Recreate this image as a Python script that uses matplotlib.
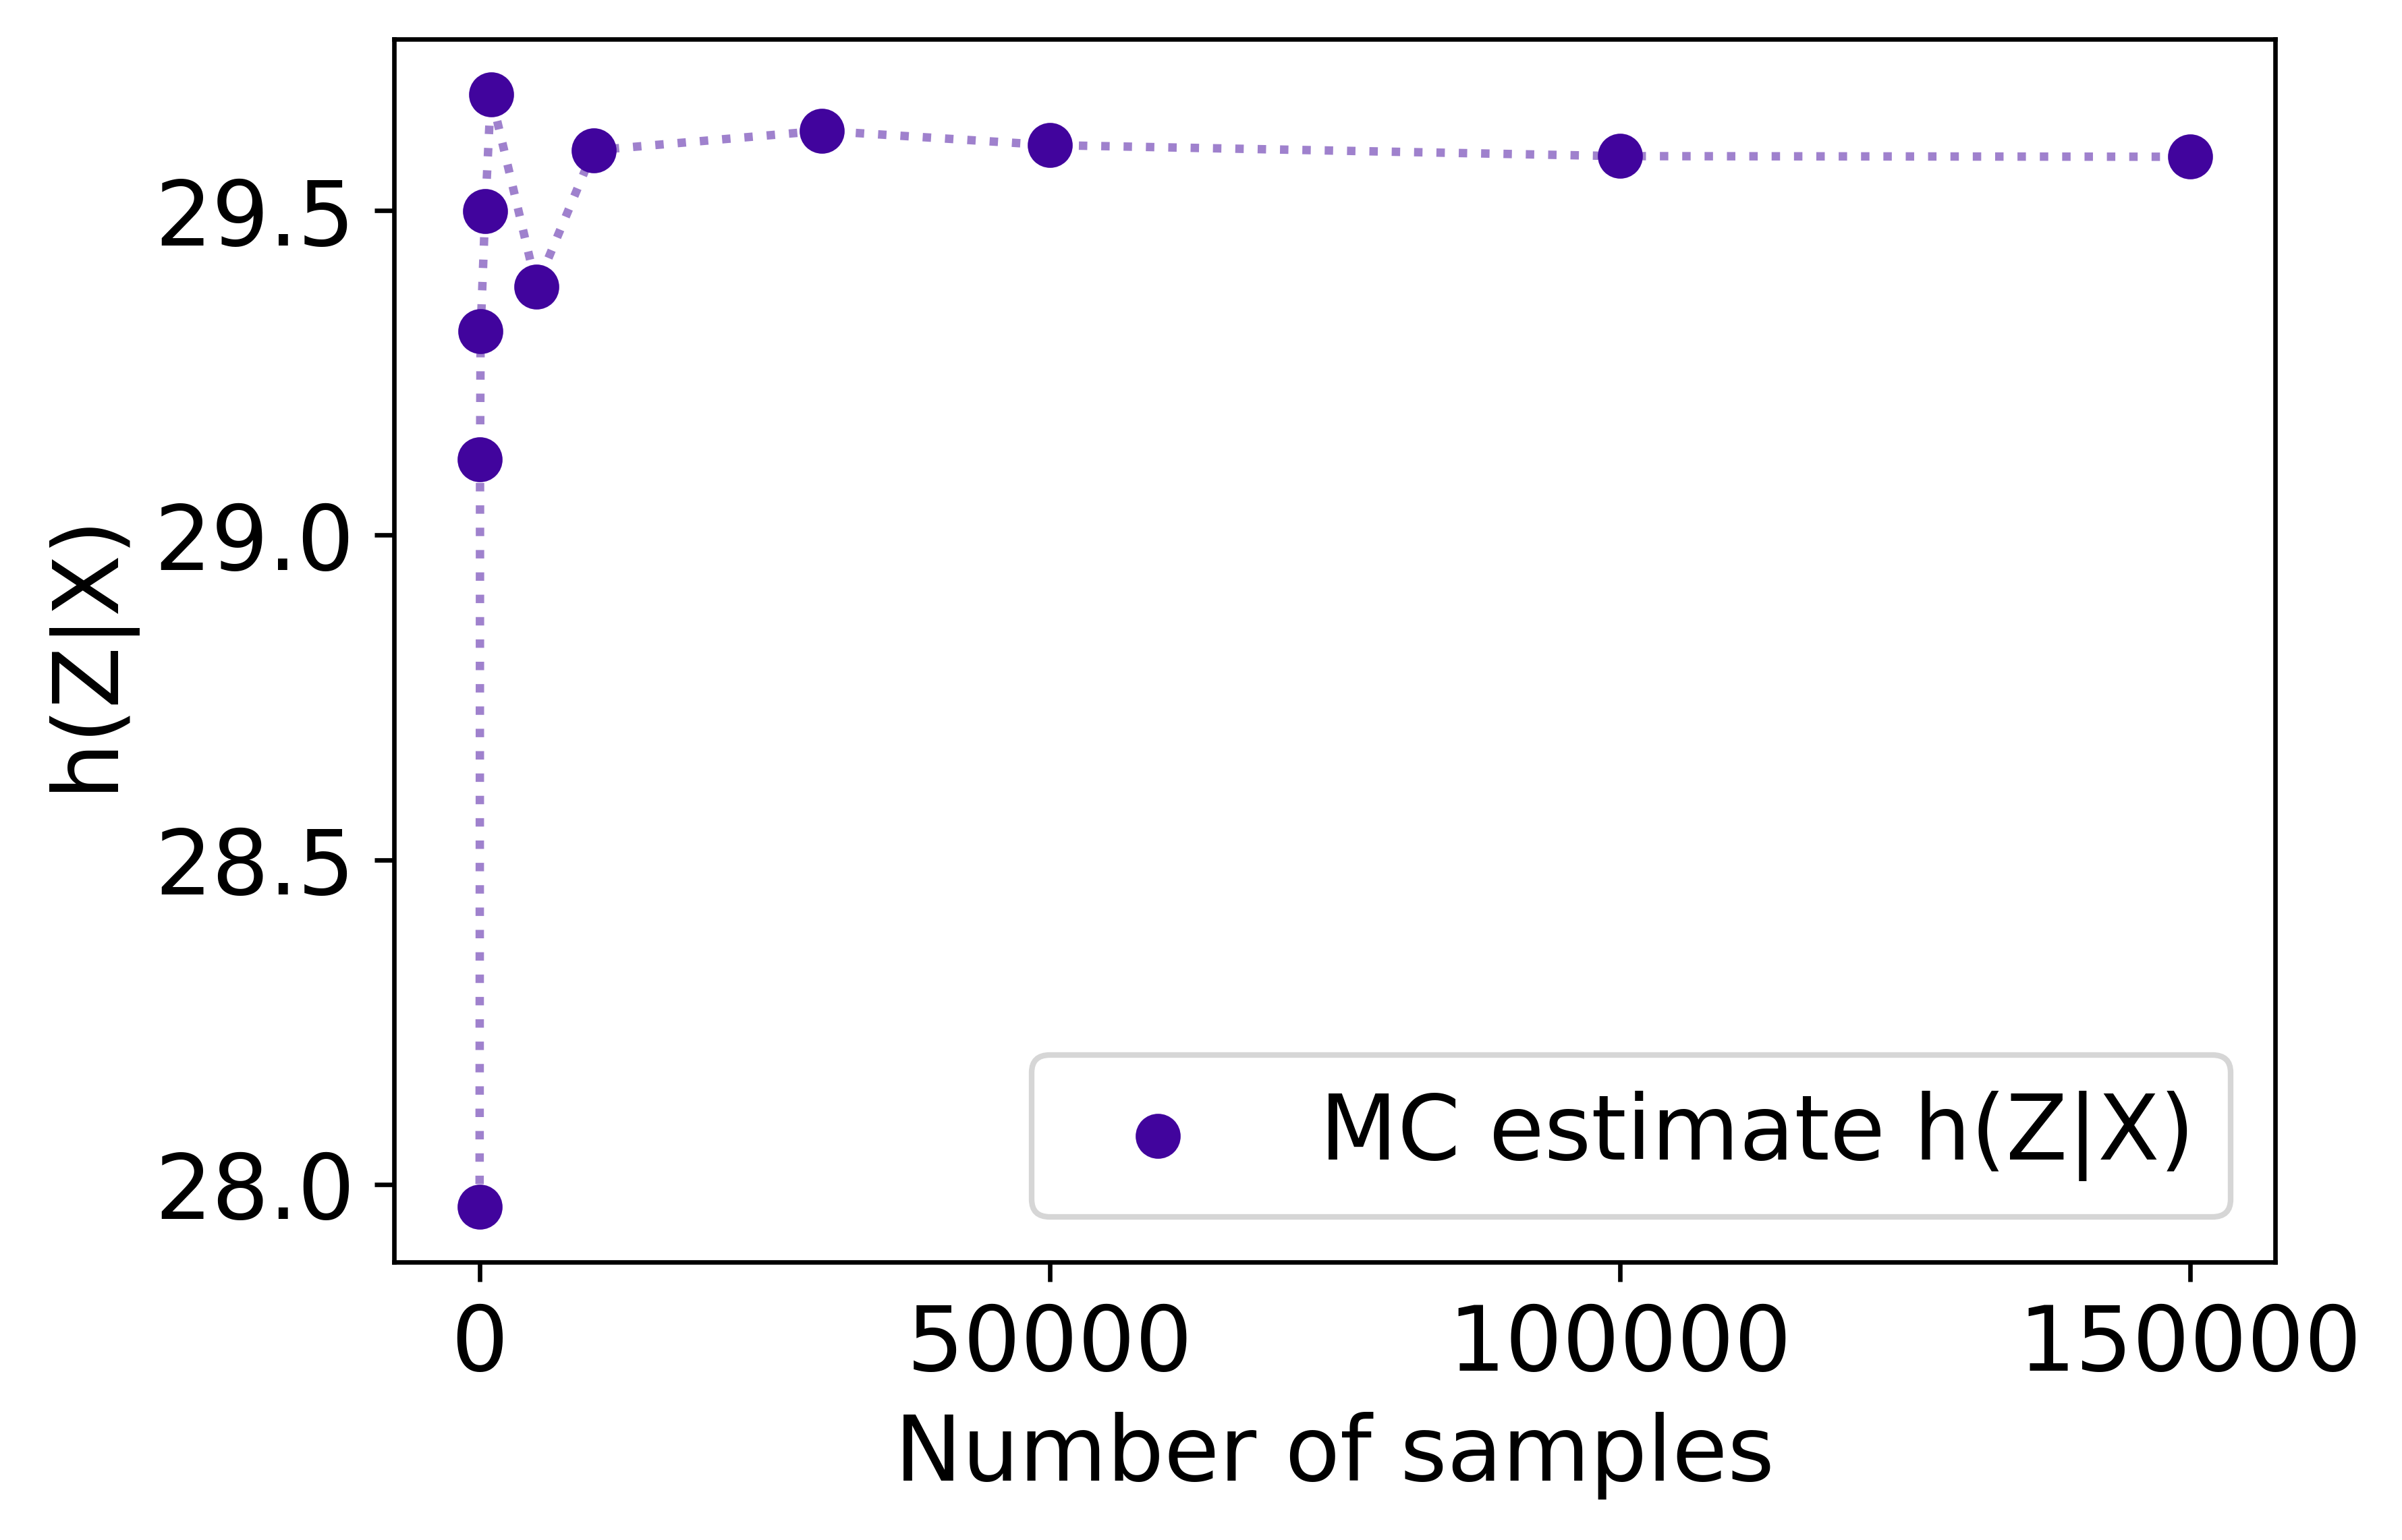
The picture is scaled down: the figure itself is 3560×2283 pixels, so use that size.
import numpy as np
import matplotlib
matplotlib.use("Agg")
import matplotlib.pyplot as plt

# Monte Carlo estimate of conditional entropy vs number of samples
n_samples = [10, 50, 100, 500, 1000, 5000, 10000, 30000, 50000, 100000, 150000]
h_est = [27.966, 29.117, 29.314, 29.499, 29.679, 29.383,
         29.593, 29.623, 29.601, 29.584, 29.583]

color = plt.cm.plasma(0.1)

fig = plt.figure(figsize=(3560.4 / 600, 2283.4 / 600), dpi=600)
ax = fig.add_axes([584 / 3560, 1 - 1871 / 2283, (3372 - 584) / 3560, (1871 - 58) / 2283])

ax.plot(n_samples, h_est, ":", color=color, alpha=0.5, linewidth=1.5)
ax.scatter(n_samples, h_est, s=49, color=color, zorder=3, label="MC estimate h(Z|X)")

ax.set_xlabel("Number of samples", fontsize=16)
ax.set_ylabel("h(Z|X)", fontsize=16)
ax.tick_params(labelsize=16)
ax.legend(loc="lower right", fontsize=16)

fig.savefig("out.png", dpi=600)
